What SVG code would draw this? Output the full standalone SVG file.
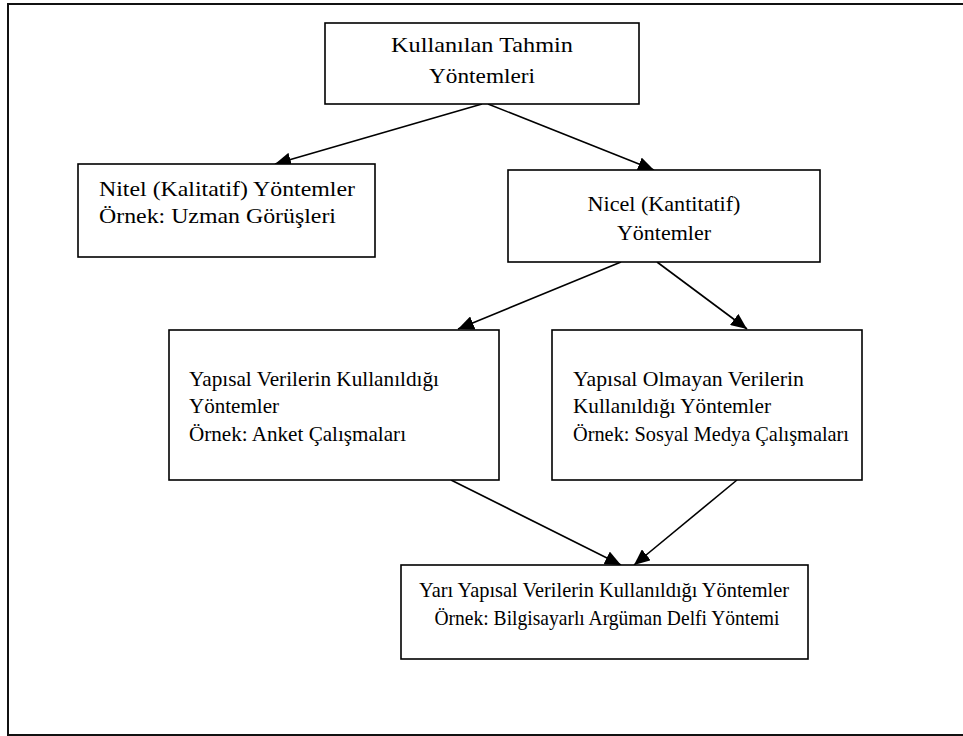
<svg xmlns="http://www.w3.org/2000/svg" width="963" height="736" viewBox="0 0 963 736">
<style>
.box{fill:#fff;stroke:#000;stroke-width:1.6}
.t{font-family:"Liberation Serif","Times New Roman",serif;font-size:22px;fill:#000}
.c{text-anchor:middle}
.e{stroke:#000;stroke-width:1.6;fill:none;marker-end:url(#ah)}
</style>
<defs>
<marker id="ah" markerUnits="userSpaceOnUse" markerWidth="18" markerHeight="14" refX="16" refY="7" orient="auto">
<path d="M0,0 L16,7 L0,14 Z" fill="#000"/>
</marker>
</defs>
<rect width="963" height="736" fill="#fff"/>
<path d="M965,4 H8 V735 H965" fill="none" stroke="#111" stroke-width="2"/>
<g id="connectors">
<line class="e" x1="482" y1="104" x2="275" y2="164"/>
<line class="e" x1="488" y1="104" x2="654" y2="170"/>
<line class="e" x1="621" y1="262" x2="458" y2="329"/>
<line class="e" x1="657" y1="262" x2="747" y2="329"/>
<line class="e" x1="451" y1="480" x2="621" y2="565"/>
<line class="e" x1="737" y1="480" x2="634" y2="565"/>
</g>
<g id="n1">
<rect class="box" x="325" y="23" width="314" height="81"/>
<text class="t c" x="482" y="52" textLength="182" lengthAdjust="spacingAndGlyphs">Kullanılan Tahmin</text>
<text class="t c" x="482" y="83" textLength="106" lengthAdjust="spacingAndGlyphs">Yöntemleri</text>
</g>
<g id="n2">
<rect class="box" x="78" y="164" width="297" height="93"/>
<text class="t" x="99" y="196" textLength="256" lengthAdjust="spacingAndGlyphs">Nitel (Kalitatif) Yöntemler</text>
<text class="t" x="99" y="223" textLength="237" lengthAdjust="spacingAndGlyphs">Örnek: Uzman Görüşleri</text>
</g>
<g id="n3">
<rect class="box" x="508" y="170" width="312" height="92"/>
<text class="t c" x="664" y="211" textLength="153" lengthAdjust="spacingAndGlyphs">Nicel (Kantitatif)</text>
<text class="t c" x="664" y="240" textLength="94" lengthAdjust="spacingAndGlyphs">Yöntemler</text>
</g>
<g id="n4">
<rect class="box" x="169" y="330" width="330" height="150"/>
<text class="t" x="189" y="386" textLength="250" lengthAdjust="spacingAndGlyphs">Yapısal Verilerin Kullanıldığı</text>
<text class="t" x="189" y="413" textLength="90" lengthAdjust="spacingAndGlyphs">Yöntemler</text>
<text class="t" x="189" y="441" textLength="217" lengthAdjust="spacingAndGlyphs">Örnek: Anket Çalışmaları</text>
</g>
<g id="n5">
<rect class="box" x="552" y="330" width="310" height="150"/>
<text class="t" x="573" y="386" textLength="231" lengthAdjust="spacingAndGlyphs">Yapısal Olmayan Verilerin</text>
<text class="t" x="573" y="413" textLength="198" lengthAdjust="spacingAndGlyphs">Kullanıldığı Yöntemler</text>
<text class="t" x="573" y="441" textLength="276" lengthAdjust="spacingAndGlyphs">Örnek: Sosyal Medya Çalışmaları</text>
</g>
<g id="n6">
<rect class="box" x="401" y="565" width="407" height="94"/>
<text class="t c" x="604" y="597" textLength="370" lengthAdjust="spacingAndGlyphs">Yarı Yapısal Verilerin Kullanıldığı Yöntemler</text>
<text class="t c" x="607" y="625" textLength="345" lengthAdjust="spacingAndGlyphs">Örnek: Bilgisayarlı Argüman Delfi Yöntemi</text>
</g>
</svg>
